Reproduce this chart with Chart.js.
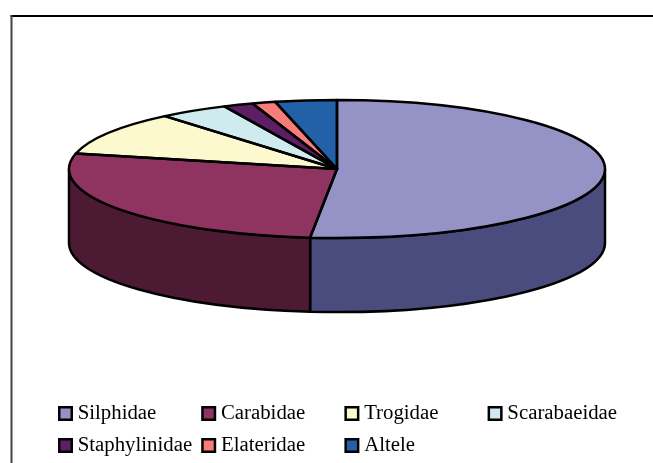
<!DOCTYPE html>
<html>
<head>
<meta charset="utf-8">
<style>html,body{margin:0;padding:0;background:#fff}canvas{display:block}</style>
<script src="https://cdn.jsdelivr.net/npm/chart.js@4"></script>
</head>
<body>
<canvas id="c" width="653" height="463"></canvas>
<script>
const categories = ['Silphidae','Carabidae','Trogidae','Scarabaeidae','Staphylinidae','Elateridae','Altele'];
const shares = [51.6,27.0,10.3,4.2,1.8,1.4,3.7];
const topColors = ['#9592C6','#8F3360','#FDF9CF','#D0EBF0','#5E1E63','#F87C7C','#2260A8'];
const sideColors = ['#4B4C7E','#4D1A33','#7F7C68','#687678','#2F0F32','#7C3E3E','#113054'];

const view = {cx:337, cy:169, rx:268, ry:69, depth:74, line:2.5};
const frame = {left:10.5, top:15, lineX:2, lineY:2};
const legendGrid = {x:59.25, y:413.5, colW:143.2, rowH:32, box:12.5, gap:6, perRow:4, line:2.5};

const pie3d = {
  id:'pie3d',
  beforeDraw(chart){
    const ctx = chart.ctx;
    ctx.save();
    ctx.fillStyle = '#000';
    ctx.fillRect(frame.left, frame.top, chart.width-frame.left, frame.lineY);
    ctx.fillStyle = '#444';
    ctx.fillRect(frame.left, frame.top, frame.lineX, chart.height-frame.top);
    ctx.restore();
    chart.legend.draw = function(){
      const c = this.ctx, font = this.options.labels.font;
      c.save();
      c.font = font.size+'px '+font.family;
      c.textBaseline = 'middle';
      c.textAlign = 'left';
      this.legendItems.forEach((it,i)=>{
        const col = i % legendGrid.perRow, row = Math.floor(i/legendGrid.perRow);
        const x = legendGrid.x + col*legendGrid.colW;
        const y = legendGrid.y + row*legendGrid.rowH;
        c.fillStyle = it.fillStyle;
        c.strokeStyle = '#000';
        c.lineWidth = legendGrid.line;
        c.fillRect(x, y-legendGrid.box/2, legendGrid.box, legendGrid.box);
        c.strokeRect(x, y-legendGrid.box/2, legendGrid.box, legendGrid.box);
        c.fillStyle = '#000';
        c.fillText(it.text, x+legendGrid.box+legendGrid.gap, y);
      });
      c.restore();
    };
  },
  beforeDatasetDraw(chart,args){
    const ctx = chart.ctx, arcs = args.meta.data;
    ctx.save();
    ctx.lineWidth = view.line;
    ctx.strokeStyle = '#000';
    ctx.lineJoin = 'round';
    arcs.forEach((arc,i)=>{
      const a0 = Math.max(arc.startAngle,0), a1 = Math.min(arc.endAngle,Math.PI);
      if(a1<=a0) return;
      ctx.beginPath();
      ctx.ellipse(view.cx,view.cy,view.rx,view.ry,0,a0,a1,false);
      ctx.ellipse(view.cx,view.cy+view.depth,view.rx,view.ry,0,a1,a0,true);
      ctx.closePath();
      ctx.fillStyle = sideColors[i];
      ctx.fill();
      ctx.stroke();
    });
    ctx.restore();
    const first = arcs[0], sx = view.rx/first.outerRadius, sy = view.ry/first.outerRadius;
    ctx.save();
    ctx.setTransform(sx,0,0,sy,view.cx-first.x*sx,view.cy-first.y*sy);
  },
  afterDatasetDraw(chart,args){
    const ctx = chart.ctx;
    ctx.restore();
    ctx.save();
    ctx.lineWidth = view.line;
    ctx.strokeStyle = '#000';
    ctx.lineJoin = 'round';
    args.meta.data.forEach(arc=>{
      ctx.beginPath();
      ctx.moveTo(view.cx,view.cy);
      ctx.ellipse(view.cx,view.cy,view.rx,view.ry,0,arc.startAngle,arc.endAngle,false);
      ctx.closePath();
      ctx.stroke();
    });
    ctx.restore();
  }
};

new Chart(document.getElementById('c'),{
  type:'pie',
  data:{labels:categories,datasets:[{data:shares,backgroundColor:topColors,borderWidth:0,clip:false}]},
  options:{
    responsive:false,
    animation:false,
    events:[],
    plugins:{
      legend:{display:true,position:'bottom',labels:{font:{size:20.8,family:'"Liberation Serif"'},color:'#000'}},
      tooltip:{enabled:false}
    }
  },
  plugins:[pie3d]
});
</script>
</body>
</html>
